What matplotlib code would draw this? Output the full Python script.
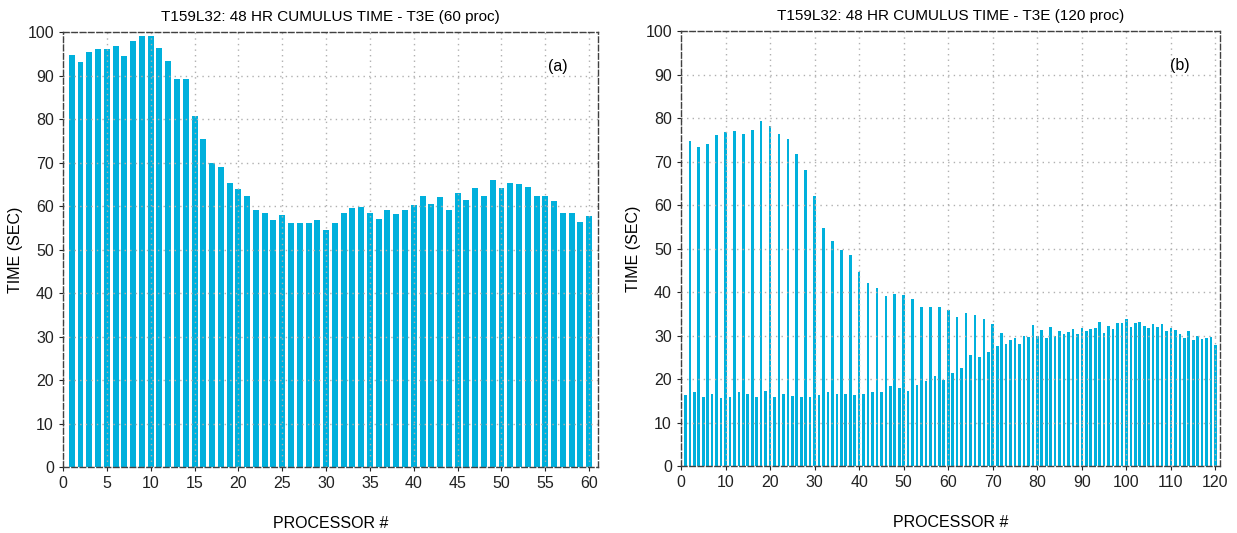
import numpy as np
import matplotlib.pyplot as plt

plt.rcParams['font.family'] = ['Liberation Sans', 'DejaVu Sans']

# panel (a): 60 processors
time_60 = [94.8, 93.0, 95.5, 96.2, 96.0, 96.9, 94.4, 98.0, 99.0, 99.0,
           96.4, 93.4, 89.3, 89.1, 80.8, 75.3, 70.0, 68.9, 65.4, 63.8,
           62.2, 59.2, 58.3, 56.7, 58.0, 56.2, 56.2, 56.2, 56.7, 54.6,
           56.2, 58.3, 59.5, 59.7, 58.5, 57.1, 59.0, 58.1, 59.0, 60.2,
           62.2, 60.4, 62.0, 59.0, 63.1, 61.3, 64.1, 62.2, 65.9, 64.1,
           65.2, 65.0, 64.3, 62.2, 62.2, 61.1, 58.5, 58.5, 56.4, 57.8]

# panel (b): 120 processors
time_120 = [16.4, 74.7, 16.9, 73.3, 15.9, 74.0, 16.6, 76.1, 15.7, 76.8,
            15.9, 77.0, 17.1, 76.3, 16.6, 77.2, 15.9, 79.3, 17.3, 78.2,
            15.9, 76.3, 16.6, 75.2, 16.2, 71.7, 15.9, 68.0, 15.9, 62.1,
            16.4, 54.7, 16.9, 51.7, 16.6, 49.7, 16.6, 48.5, 16.4, 44.6,
            16.6, 42.1, 16.9, 40.9, 17.1, 39.1, 18.5, 39.5, 18.0, 39.3,
            17.3, 38.4, 18.7, 36.6, 19.6, 36.6, 20.8, 36.6, 19.8, 35.9,
            21.4, 34.3, 22.5, 35.2, 25.5, 34.8, 25.1, 33.8, 26.2, 32.7,
            27.6, 30.6, 28.1, 29.0, 29.5, 28.1, 29.9, 29.7, 32.5, 29.9,
            31.3, 29.5, 32.0, 29.9, 31.1, 30.4, 30.8, 31.5, 30.4, 31.8,
            31.1, 31.5, 31.8, 33.2, 30.6, 32.2, 31.5, 32.9, 32.9, 33.8,
            32.0, 32.9, 33.2, 32.2, 31.8, 32.7, 32.0, 32.7, 31.1, 31.8,
            31.3, 30.4, 29.5, 31.1, 29.0, 29.9, 29.2, 29.5, 29.7, 27.8]

titles = ["T159L32: 48 HR CUMULUS TIME - T3E (60 proc)",
          "T159L32: 48 HR CUMULUS TIME - T3E (120 proc)"]
tags = ["(a)", "(b)"]

BAR_COLOR = "#00B0DC"

fig = plt.figure(figsize=(12.37, 5.33), dpi=100)
ax_a = fig.add_axes([0.0509, 0.1238, 0.4325, 0.8161])
ax_b = fig.add_axes([0.5505, 0.1257, 0.4357, 0.8161])

panels = [
    (ax_a, time_60, 0.68, 61, 5),
    (ax_b, time_120, 0.6, 121, 10),
]

for k, (ax, vals, width, xmax, xstep) in enumerate(panels):
    x = np.arange(1, len(vals) + 1)
    ax.bar(x, vals, width=width, color=BAR_COLOR, zorder=1)
    ax.set_xlim(0, xmax)
    ax.set_ylim(0, 100)
    ax.set_xticks(np.arange(0, xmax, xstep))
    ax.set_yticks(np.arange(0, 101, 10))
    ax.grid(True, color="#b0b0b0", linestyle=(0, (1, 3)), linewidth=1.0, zorder=3)
    ax.set_axisbelow(False)
    for s in ax.spines.values():
        s.set_color("#404040")
        s.set_linestyle((0, (4, 2)))
        s.set_linewidth(1.0)
        s.set_zorder(4)
    ax.tick_params(direction="out", length=3, labelsize=11.5, colors="#222222")
    ax.set_title(titles[k], fontsize=11, pad=8)
    ax.set_xlabel("PROCESSOR #", fontsize=11.5, labelpad=18)
    ax.set_ylabel("TIME (SEC)", fontsize=11.5, labelpad=3)
    ax.text(0.925, 0.92, tags[k], transform=ax.transAxes, fontsize=11.5,
            ha="center", va="center")

fig.savefig("out.png", dpi=100)
